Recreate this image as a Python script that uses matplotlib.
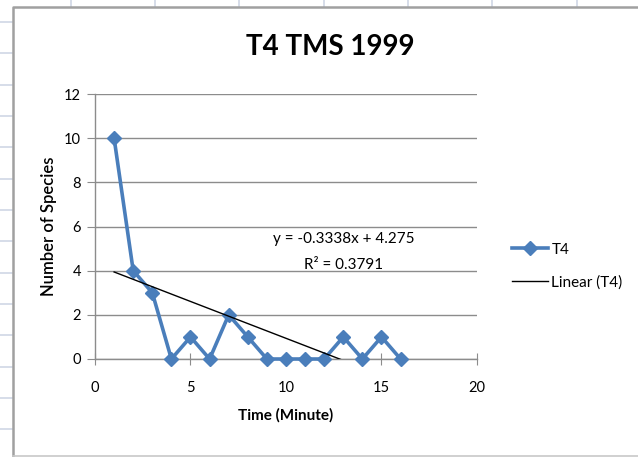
import matplotlib.pyplot as plt
import numpy as np
from matplotlib.lines import Line2D


W, H = 638, 457

# data
minutes = [1, 2, 3, 4, 5, 6, 7, 8, 9, 10, 11, 12, 13, 14, 15, 16]
species = [10, 4, 3, 0, 1, 0, 2, 1, 0, 0, 0, 0, 1, 0, 1, 0]
eq_text = 'y = -0.3338x + 4.275'
r2_text = 'R² = 0.3791'

x_ticks = [0, 5, 10, 15, 20]
y_ticks = [0, 2, 4, 6, 8, 10, 12]

BLUE = '#4A7EBB'
GRID = '#8C8C8C'
SHEET = '#D0D7E5'


def fx(px):
    return px / W


def fy(py):
    return 1 - py / H


plt.rcParams['font.family'] = ['Lato', 'DejaVu Sans']

fig = plt.figure(figsize=(W / 100, H / 100), dpi=100)

# spreadsheet cells around the chart object
for xp in [71, 155, 239, 324, 408, 492, 577]:
    fig.add_artist(Line2D([fx(xp), fx(xp)], [fy(0), fy(7)], color=SHEET, lw=1.2))
for yp in [22, 53, 85, 116, 147, 179, 210, 241, 273, 304, 335, 367, 398, 429]:
    fig.add_artist(Line2D([fx(0), fx(12)], [fy(yp), fy(yp)], color=SHEET, lw=1.2))

# chart area border
fig.add_artist(Line2D([fx(13), fx(13), fx(W)], [fy(456), fy(7), fy(7)],
                      color='#A0A0A0', lw=1.8))
fig.add_artist(Line2D([fx(13), fx(W)], [fy(456), fy(456)], color='#C8C8C8', lw=1.2))

ax = fig.add_axes([fx(95), fy(359), fx(477) - fx(95), fy(94) - fy(359)])

ax.plot(minutes, species, color=BLUE, lw=2.6, marker='D', markersize=7.5,
        clip_on=False, zorder=3, label='T4')

slope, intercept = np.polyfit(minutes, species, 1)
trend_x = np.array([minutes[0], minutes[-1]])
ax.plot(trend_x, slope * trend_x + intercept, color='black', lw=1.0,
        zorder=4, label='Linear (T4)')

ax.set_xlim(0, 20)
ax.set_ylim(0, 12)
ax.set_xticks(x_ticks)
ax.set_yticks(y_ticks)
ax.yaxis.grid(True, color=GRID, lw=1.0)
ax.set_axisbelow(True)

for side in ['top', 'right']:
    ax.spines[side].set_visible(False)
for side in ['left', 'bottom']:
    ax.spines[side].set_color(GRID)
    ax.spines[side].set_linewidth(1.0)

ax.tick_params(axis='y', direction='out', length=6, color=GRID, labelsize=10.5, pad=4)
ax.tick_params(axis='x', direction='inout', length=8, color=GRID, labelsize=10.5, pad=12)

ax.set_xlabel('Time (Minute)', fontsize=11, fontweight='bold', labelpad=9)
ax.set_ylabel('Number of Species', fontsize=12, fontweight='semibold', labelpad=5)

ax.text(13, 5.45, eq_text, ha='center', va='center', fontsize=11)
ax.text(13, 4.25, r2_text, ha='center', va='center', fontsize=11)

fig.text(fx(330), fy(47), 'T4 TMS 1999', ha='center', va='center',
         fontsize=20, fontweight='bold')

fig.legend(loc='upper left', bbox_to_anchor=(fx(498), fy(229)), frameon=False,
           fontsize=11, handlelength=2.4, handletextpad=0.2, labelspacing=1.2)

fig.savefig('out.png', dpi=100)
